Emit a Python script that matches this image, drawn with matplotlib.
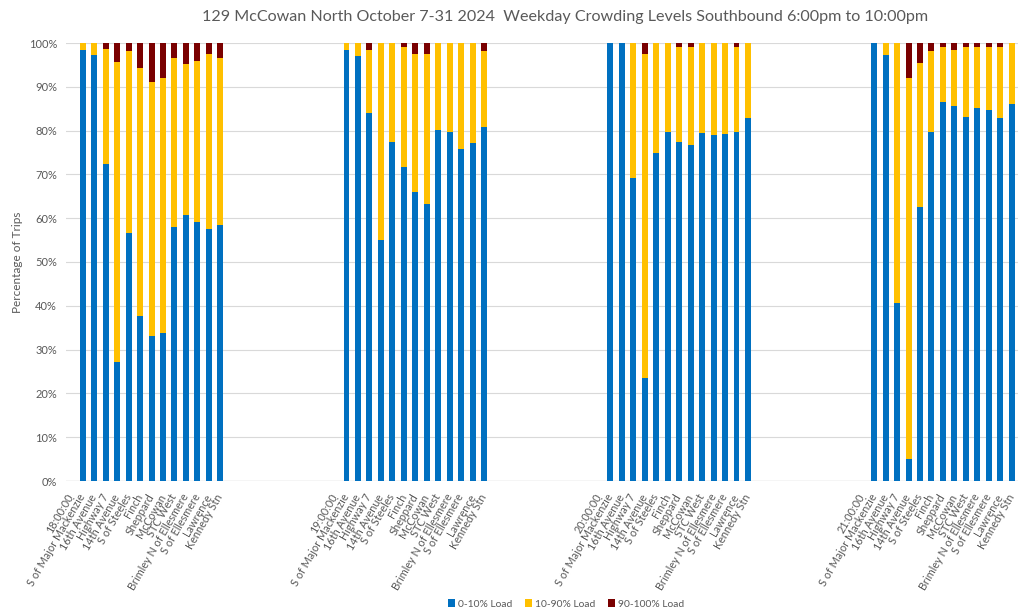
import numpy as np
import matplotlib
matplotlib.use("Agg")
import matplotlib.pyplot as plt
from matplotlib.ticker import MultipleLocator, PercentFormatter

plt.rcParams['font.family'] = ['Lato', 'DejaVu Sans']

hours = ['18:00:00', '19:00:00', '20:00:00', '21:00:00']
stops = ['S of Major Mackenzie', '16th Avenue', 'Highway 7', '14th Avenue',
         'S of Steeles', 'Finch', 'Sheppard', 'McCowan', 'STC West',
         'Brimley N of Ellesmere', 'S of Ellesmere', 'Lawrence', 'Kennedy Stn']

# share of trips at 0-10% load, per hour block (percent)
low_18 = [98.5, 97.2, 72.3, 27.2, 56.6, 37.7, 33.1, 33.9, 58.1, 60.7, 59.1, 57.5, 58.5]
low_19 = [98.5, 97.1, 84.0, 55.0, 77.4, 71.8, 65.9, 63.3, 80.2, 79.6, 75.8, 77.2, 80.8]
low_20 = [100.0, 100.0, 69.1, 23.5, 74.8, 79.6, 77.3, 76.7, 79.5, 79.0, 79.3, 79.6, 82.8]
low_21 = [100.0, 97.2, 40.6, 5.0, 62.6, 79.7, 86.5, 85.7, 83.1, 85.1, 84.7, 82.8, 86.1]

# share of trips at 90-100% load (percent)
high_18 = [0.0, 0.0, 1.4, 4.3, 1.8, 5.6, 8.8, 7.9, 3.4, 4.7, 4.0, 2.5, 3.5]
high_19 = [0.0, 0.0, 1.5, 0.0, 0.0, 1.0, 2.5, 2.5, 0.0, 0.0, 0.0, 0.0, 1.8]
high_20 = [0.0, 0.0, 0.0, 2.5, 0.0, 0.0, 1.0, 1.0, 0.0, 0.0, 0.0, 1.0, 0.0]
high_21 = [0.0, 0.0, 0.0, 7.9, 4.6, 1.8, 0.8, 1.6, 0.8, 0.8, 0.8, 0.8, 0.0]

low_sets = [low_18, low_19, low_20, low_21]
high_sets = [high_18, high_19, high_20, high_21]

n_gap = 9  # empty categories between hour blocks

# build the category axis: hour label, 13 stops, then blank spacers
labels, low, mid, high = [], [], [], []
for i, (h, lo, hi) in enumerate(zip(hours, low_sets, high_sets)):
    labels.append(h)
    low.append(np.nan); mid.append(np.nan); high.append(np.nan)
    for s, a, c in zip(stops, lo, hi):
        labels.append(s)
        low.append(a)
        mid.append(100.0 - a - c)
        high.append(c)
    if i < len(hours) - 1:
        for _ in range(n_gap):
            labels.append('')
            low.append(np.nan); mid.append(np.nan); high.append(np.nan)

low = np.array(low)
mid = np.array(mid)
high = np.array(high)
x = np.arange(len(labels))

fig = plt.figure(figsize=(10.24, 6.14), dpi=100)
ax = fig.add_axes([65.5 / 1024, 1 - 481 / 614, 952 / 1024, 438 / 614])

w = 0.52
ax.bar(x, low, w, color='#0070C0', label='0-10% Load', zorder=3)
ax.bar(x, mid, w, bottom=low, color='#FFC000', label='10-90% Load', zorder=3)
ax.bar(x, high, w, bottom=low + mid, color='#7A0000', label='90-100% Load', zorder=3)

ax.set_xlim(-0.5, len(labels) - 0.5)
ax.set_ylim(0, 100)
ax.yaxis.set_major_locator(MultipleLocator(10))
ax.yaxis.set_major_formatter(PercentFormatter(decimals=0))
ax.grid(axis='y', color='#D9D9D9', lw=0.8, zorder=0)
for sp in ax.spines.values():
    sp.set_visible(False)
ax.axhline(0, color='#D9D9D9', lw=1, zorder=2)

ax.set_xticks(x)
ax.set_xticklabels(labels, rotation=60, ha='right', va='center',
                   rotation_mode='anchor', fontsize=7.8, color='#595959')
ax.tick_params(axis='both', length=0, colors='#595959')
ax.tick_params(axis='y', labelsize=8, pad=6)
ax.tick_params(axis='x', pad=10)

ax.set_ylabel('Percentage of Trips', fontsize=8.5, color='#595959', labelpad=4)
fig.text(0.552, 0.972, '129 McCowan North October 7-31 2024  Weekday Crowding Levels '
         'Southbound 6:00pm to 10:00pm', ha='center', va='center',
         fontsize=11.6, color='#595959')

fig.legend(loc='center', bbox_to_anchor=(566 / 1024, 1 - 604 / 614), ncol=3,
           frameon=False, fontsize=7.4, handlelength=0.7, handleheight=0.7,
           handletextpad=0.3, columnspacing=1.2, labelcolor='#595959',
           borderpad=0)

fig.savefig('out.png', dpi=100)
